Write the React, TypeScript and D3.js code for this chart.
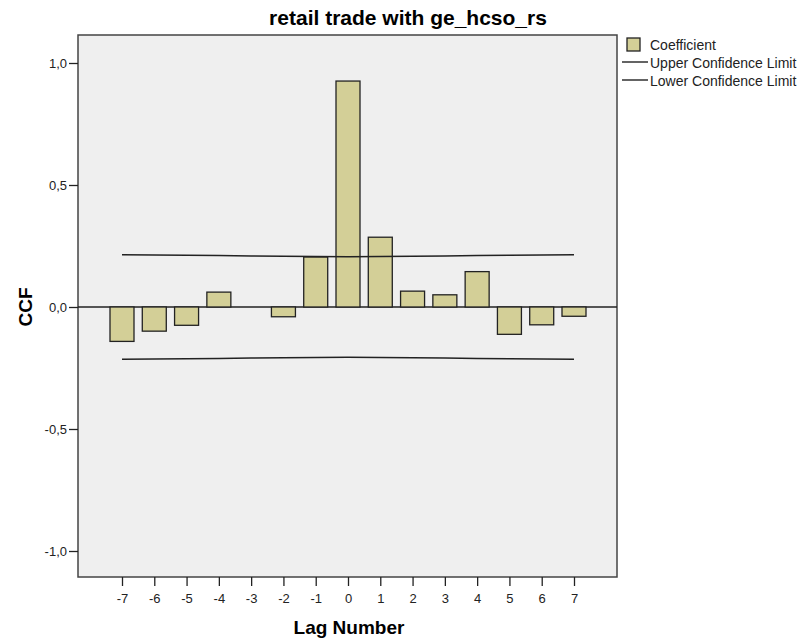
import * as d3 from 'd3';
import React, { useEffect, useRef } from 'react';

const lags = [-7, -6, -5, -4, -3, -2, -1, 0, 1, 2, 3, 4, 5, 6, 7];
const coefficient = [-0.141, -0.099, -0.075, 0.061, 0, -0.04, 0.205, 0.926, 0.286, 0.065, 0.05, 0.145, -0.112, -0.073, -0.038];
const upperLimit = [0.214, 0.213, 0.212, 0.211, 0.209, 0.208, 0.207, 0.206, 0.207, 0.208, 0.209, 0.211, 0.212, 0.213, 0.214];
const lowerLimit = upperLimit.map(v => -v);
const yTicks = [-1, -0.5, 0, 0.5, 1];
const legendItems = ['Coefficient', 'Upper Confidence Limit', 'Lower Confidence Limit'];

const font = '"Liberation Sans", Arial, sans-serif';
const ink = '#222';

const App = () => {
  const ref = useRef<SVGSVGElement>(null);

  useEffect(() => {
    const svg = d3.select(ref.current);
    svg.selectAll('*').remove();

    const left = 78, right = 617, top = 35, bottom = 577;

    const x = d3.scaleLinear().domain([-7, 7]).range([122, 574]);
    const y = d3.scaleLinear().domain([-1, 1]).range([551, 63]);
    const barW = 24;

    svg.append('rect')
      .attr('x', left).attr('y', top)
      .attr('width', right - left).attr('height', bottom - top)
      .attr('fill', '#efefef')
      .attr('stroke', '#444')
      .attr('stroke-width', 1.5);

    // zero line
    svg.append('line')
      .attr('x1', left).attr('x2', right)
      .attr('y1', y(0)).attr('y2', y(0))
      .attr('stroke', ink).attr('stroke-width', 1.4);

    svg.selectAll('.bar')
      .data(lags.map((l, i) => ({ l, v: coefficient[i] })).filter(d => d.v !== 0))
      .enter()
      .append('rect')
      .attr('x', d => x(d.l) - barW / 2)
      .attr('y', d => y(Math.max(0, d.v)))
      .attr('width', barW)
      .attr('height', d => Math.abs(y(d.v) - y(0)))
      .attr('fill', '#d3cf97')
      .attr('stroke', ink)
      .attr('stroke-width', 1.3);

    const line = d3.line<number>()
      .x((_, i) => x(lags[i]))
      .y(d => y(d));

    [upperLimit, lowerLimit].forEach(s => {
      svg.append('path')
        .attr('d', line(s))
        .attr('fill', 'none')
        .attr('stroke', ink)
        .attr('stroke-width', 1.4);
    });

    const yAxis = svg.append('g')
      .attr('transform', `translate(${left},0)`)
      .call(d3.axisLeft(y).tickValues(yTicks).tickSize(9).tickFormat(d => d3.format('.1f')(d as number).replace('.', ',').replace('−', '-')));
    yAxis.select('.domain').remove();
    yAxis.selectAll('line').attr('stroke', ink).attr('stroke-width', 1.3);
    yAxis.selectAll('text').attr('font-family', font).attr('font-size', 13).attr('fill', ink).attr('x', -11);

    const xAxis = svg.append('g')
      .attr('transform', `translate(0,${bottom})`)
      .call(d3.axisBottom(x).tickValues(lags).tickSize(9).tickFormat(d => String(d)));
    xAxis.select('.domain').remove();
    xAxis.selectAll('line').attr('stroke', ink).attr('stroke-width', 1.3);
    xAxis.selectAll('text').attr('font-family', font).attr('font-size', 13).attr('fill', ink).attr('y', 26).attr('dy', 0);

    svg.append('text')
      .attr('x', 408).attr('y', 25)
      .attr('text-anchor', 'middle')
      .attr('font-family', font).attr('font-weight', 'bold').attr('font-size', 21)
      .text('retail trade with ge_hcso_rs');

    svg.append('text')
      .attr('x', 349).attr('y', 634)
      .attr('text-anchor', 'middle')
      .attr('font-family', font).attr('font-weight', 'bold').attr('font-size', 19)
      .text('Lag Number');

    svg.append('text')
      .attr('transform', `translate(32,${y(0)}) rotate(-90)`)
      .attr('text-anchor', 'middle')
      .attr('font-family', font).attr('font-weight', 'bold').attr('font-size', 19)
      .text('CCF');

    const lg = svg.append('g').attr('transform', 'translate(622,44)');
    lg.append('rect')
      .attr('x', 5).attr('y', -6).attr('width', 13).attr('height', 13)
      .attr('fill', '#d3cf97').attr('stroke', ink).attr('stroke-width', 1.3);
    [1, 2].forEach(i => {
      lg.append('line')
        .attr('x1', 0).attr('x2', 26)
        .attr('y1', i * 18).attr('y2', i * 18)
        .attr('stroke', ink).attr('stroke-width', 1.4);
    });
    lg.selectAll('.lt')
      .data(legendItems)
      .enter()
      .append('text')
      .attr('x', 28)
      .attr('y', (_, i) => i * 18 + 6)
      .attr('font-family', font).attr('font-size', 14).attr('fill', ink)
      .text(d => d);
  }, []);

  return (
    <svg ref={ref} width={804} height={641} style={{ position: 'absolute', left: 0, top: 0, background: '#fff' }}></svg>
  );
};

export default App;
